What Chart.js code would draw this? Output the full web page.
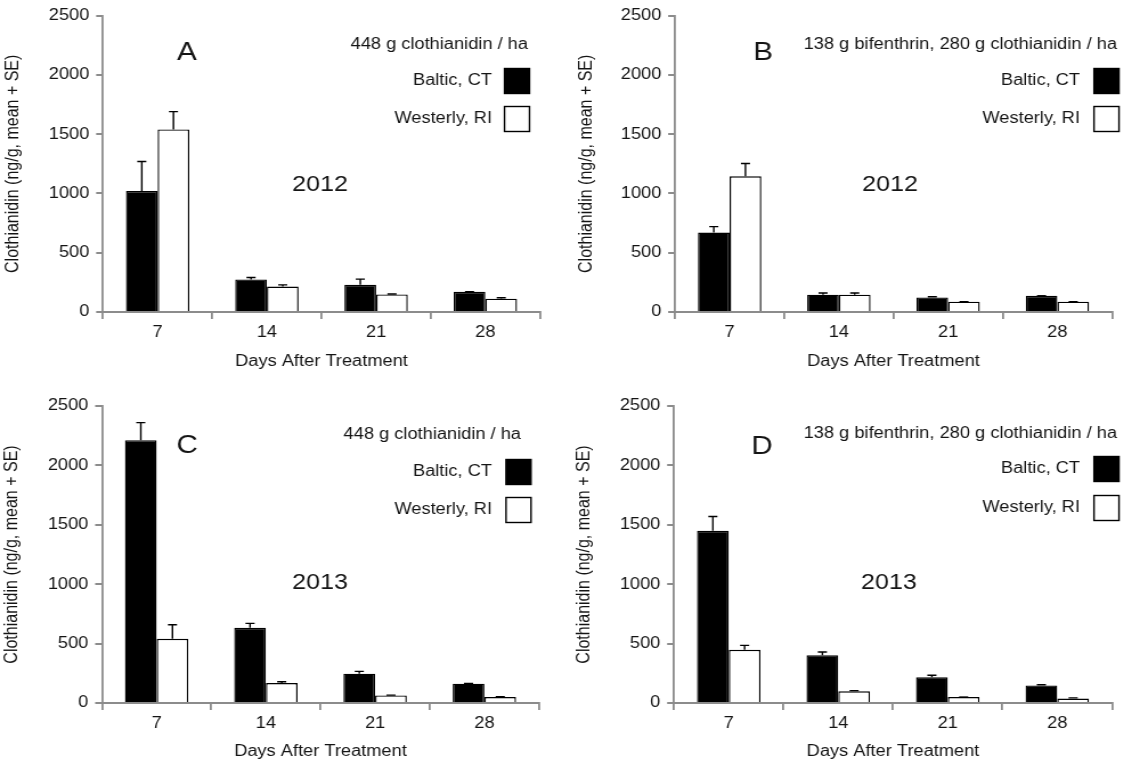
<!DOCTYPE html>
<html>
<head>
<meta charset="utf-8">
<script src="https://cdn.jsdelivr.net/npm/chart.js@4.4.1/dist/chart.umd.min.js"></script>
<style>
  html, body { margin: 0; padding: 0; background: #fff; }
  body { width: 1135px; height: 761px; position: relative; overflow: hidden; }
  .panel { position: absolute; transform-origin: 0 0; }
  .panel canvas { display: block; }
</style>
</head>
<body>
<div class="panel" id="wrapA" style="left:0;top:0"><canvas id="panelA"></canvas></div>
<div class="panel" id="wrapB" style="left:570px;top:0"><canvas id="panelB"></canvas></div>
<div class="panel" id="wrapC" style="left:0;top:380px"><canvas id="panelC"></canvas></div>
<div class="panel" id="wrapD" style="left:570px;top:380px"><canvas id="panelD"></canvas></div>
<script>
// Data (ng/g, mean and SE)
const days = ['7', '14', '21', '28'];
const sites = ['Baltic, CT', 'Westerly, RI'];
const yTicks = [0, 500, 1000, 1500, 2000, 2500];

const aBaltic = [1020, 275, 230, 170];
const aBalticSe = [250, 16, 47, 2];
const aWesterly = [1540, 215, 148, 112];
const aWesterlySe = [150, 14, 4, 8];

const bBaltic = [670, 146, 123, 137];
const bBalticSe = [50, 14, 6, 0];
const bWesterly = [1145, 146, 87, 87];
const bWesterlySe = [107, 14, 0, 0];

const cBaltic = [2212, 633, 247, 163];
const cBalticSe = [148, 37, 19, 2];
const cWesterly = [541, 168, 64, 50];
const cWesterlySe = [118, 11, 2, 2];

const dBaltic = [1449, 401, 216, 148];
const dBalticSe = [121, 28, 17, 5];
const dWesterly = [448, 98, 50, 37];
const dWesterlySe = [37, 6, 0, 6];

const FONT = "'Liberation Sans', Arial, Helvetica, sans-serif";
const AXIS = '#8c8c8c';
const INK = '#141414';
// the source figure is a little wider than tall-type text would suggest,
// so each panel is drawn narrow and stretched sideways
const SX = 1.14;

// draws the "+SE" whiskers on top of each bar
const errorBars = {
    id: 'errorBars',
    afterDatasetsDraw(chart) {
        const ctx = chart.ctx;
        const y = chart.scales.y;
        ctx.save();
        ctx.strokeStyle = '#000';
        ctx.lineWidth = 1.4;
        chart.data.datasets.forEach((ds, i) => {
            chart.getDatasetMeta(i).data.forEach((bar, j) => {
                const top = y.getPixelForValue(ds.data[j] + ds.se[j]);
                ctx.beginPath();
                ctx.moveTo(bar.x, bar.y);
                ctx.lineTo(bar.x, top);
                ctx.moveTo(bar.x - 4, top);
                ctx.lineTo(bar.x + 4, top);
                ctx.stroke();
            });
        });
        ctx.restore();
    }
};

// panel letter, year, treatment line and the legend boxes
const panelText = {
    id: 'panelText',
    afterDraw(chart) {
        const t = chart.options.plugins.panelText;
        const ctx = chart.ctx;
        ctx.save();
        ctx.fillStyle = INK;
        ctx.textBaseline = 'middle';
        ctx.textAlign = 'center';
        ctx.font = '26px ' + FONT;
        ctx.fillText(t.letter, t.letterX / SX, t.letterY);
        ctx.font = '22px ' + FONT;
        ctx.fillText(t.year, t.yearX / SX, t.yearY);
        ctx.textAlign = 'right';
        ctx.font = '16px ' + FONT;
        ctx.fillText(t.treatment, t.treatRight / SX, t.treatY);
        chart.data.datasets.forEach((ds, i) => {
            const cy = t.legendY[i];
            ctx.fillStyle = INK;
            ctx.fillText(ds.label, t.legendTextRight / SX, cy);
            ctx.fillStyle = ds.backgroundColor;
            ctx.fillRect(t.boxLeft / SX, cy - 12.5, 25 / SX, 25);
            ctx.strokeStyle = '#000';
            ctx.lineWidth = 1.4;
            ctx.strokeRect(t.boxLeft / SX, cy - 12.5, 25 / SX, 25);
        });
        ctx.restore();
    }
};

function makePanel(id, baltic, balticSe, westerly, westerlySe, p) {
    const c = document.getElementById(id);
    c.width = Math.round(p.w / SX);
    c.height = p.h;
    c.parentNode.style.transform = 'scaleX(' + SX + ')';
    return new Chart(c, {
        type: 'bar',
        data: {
            labels: days,
            datasets: [{
                label: sites[0],
                data: baltic,
                se: balticSe,
                backgroundColor: '#000000',
                borderColor: '#000000',
                borderWidth: 1.4
            }, {
                label: sites[1],
                data: westerly,
                se: westerlySe,
                backgroundColor: '#ffffff',
                borderColor: '#000000',
                borderWidth: 1.4
            }]
        },
        plugins: [errorBars, panelText],
        options: {
            responsive: false,
            animation: false,
            devicePixelRatio: 1,
            categoryPercentage: 0.58,
            barPercentage: 1.0,
            layout: { padding: { left: 0, top: p.top, right: c.width - p.right / SX, bottom: 0 } },
            plugins: {
                legend: { display: false },
                tooltip: { enabled: false },
                panelText: p.text
            },
            scales: {
                x: {
                    grid: { drawOnChartArea: false, tickLength: 7, color: AXIS, lineWidth: 1.8 },
                    border: { color: AXIS, width: 2 },
                    ticks: { color: INK, font: { family: FONT, size: 16 }, padding: 4 },
                    title: {
                        display: true, text: 'Days After Treatment', color: INK,
                        font: { family: FONT, size: 16 }, padding: { top: 0, bottom: p.xTitlePad }
                    },
                    afterFit: s => { s.height = c.height - p.bottom; }
                },
                y: {
                    min: yTicks[0],
                    max: yTicks[yTicks.length - 1],
                    grid: { drawOnChartArea: false, tickLength: 6, color: AXIS, lineWidth: 2 },
                    border: { color: AXIS, width: 1.8 },
                    ticks: {
                        stepSize: yTicks[1] - yTicks[0], color: INK,
                        font: { family: FONT, size: 16 }, padding: 6,
                        callback: v => String(v)
                    },
                    title: {
                        display: true, text: 'Clothianidin (ng/g, mean + SE)', color: INK,
                        font: { family: FONT, size: 16 }, padding: { top: p.yTitlePad, bottom: 0 }
                    },
                    afterFit: s => { s.width = p.left / SX; }
                }
            }
        }
    });
}

makePanel('panelA', aBaltic, aBalticSe, aWesterly, aWesterlySe, {
    w: 567, h: 380, left: 103, right: 540, top: 15, bottom: 312, xTitlePad: 9, yTitlePad: 2,
    text: {
        letter: 'A', letterX: 187, letterY: 53, year: '2012', yearX: 320, yearY: 185,
        treatment: '448 g clothianidin / ha', treatRight: 528, treatY: 45,
        legendTextRight: 492, legendY: [81, 119], boxLeft: 504.5
    }
});

makePanel('panelB', bBaltic, bBalticSe, bWesterly, bWesterlySe, {
    w: 565, h: 380, left: 105, right: 542, top: 15, bottom: 312, xTitlePad: 9, yTitlePad: 5,
    text: {
        letter: 'B', letterX: 193, letterY: 53, year: '2012', yearX: 320, yearY: 185,
        treatment: '138 g bifenthrin, 280 g clothianidin / ha', treatRight: 547, treatY: 45,
        legendTextRight: 510, legendY: [81, 119], boxLeft: 524
    }
});

makePanel('panelC', cBaltic, cBalticSe, cWesterly, cWesterlySe, {
    w: 567, h: 381, left: 102, right: 539, top: 26, bottom: 323, xTitlePad: 0, yTitlePad: 1,
    text: {
        letter: 'C', letterX: 187, letterY: 66, year: '2013', yearX: 320, yearY: 203,
        treatment: '448 g clothianidin / ha', treatRight: 521, treatY: 55,
        legendTextRight: 492, legendY: [92, 130], boxLeft: 506
    }
});

makePanel('panelD', dBaltic, dBalticSe, dWesterly, dWesterlySe, {
    w: 565, h: 381, left: 104, right: 542, top: 26, bottom: 323, xTitlePad: 0, yTitlePad: 3,
    text: {
        letter: 'D', letterX: 192, letterY: 67, year: '2013', yearX: 319, yearY: 203,
        treatment: '138 g bifenthrin, 280 g clothianidin / ha', treatRight: 547, treatY: 54,
        legendTextRight: 510, legendY: [89, 128], boxLeft: 524
    }
});
</script>
</body>
</html>
